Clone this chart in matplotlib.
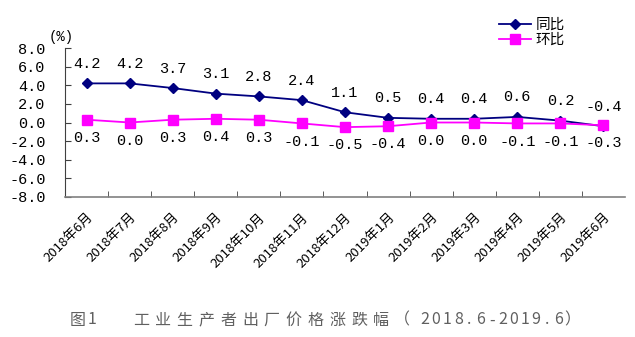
import matplotlib.pyplot as plt
import numpy as np

plt.rcParams['font.family'] = ['Noto Sans CJK SC', 'DejaVu Sans']
NUM_FONT = ['Liberation Mono', 'DejaVu Sans Mono']

months = ['2018年6月', '2018年7月', '2018年8月', '2018年9月', '2018年10月', '2018年11月',
          '2018年12月', '2019年1月', '2019年2月', '2019年3月', '2019年4月', '2019年5月',
          '2019年6月']
yoy = [4.2, 4.2, 3.7, 3.1, 2.8, 2.4, 1.1, 0.5, 0.4, 0.4, 0.6, 0.2, -0.4]
mom = [0.3, 0.0, 0.3, 0.4, 0.3, -0.1, -0.5, -0.4, 0.0, 0.0, -0.1, -0.1, -0.3]
yticks = np.arange(-8, 8.1, 2)
# caption pieces: text, centre of first glyph (px), advance per glyph (px)
caption = [('图', 78, 0), ('1', 92, 0), ('工业生产者出厂价格涨跌幅', 141, 21.8),
           ('（', 402, 0), ('2018.6-2019.6', 425, 11.1), ('）', 572, 0)]

W, H = 635, 337
fig = plt.figure(figsize=(W / 100, H / 100), dpi=100)
ax = fig.add_axes([65 / W, 1 - 197 / H, 560 / W, 149 / H])

x = np.arange(len(months))
ax.plot(x, yoy, color='#000080', marker='D', markersize=5, linewidth=1.3, label='同比')
ax.plot(x, mom, color='#FF00FF', marker='s', markersize=7, linewidth=1.3, label='环比')

for xi, v in zip(x, yoy):
    ax.annotate(f'{v:.1f}', (xi, v), xytext=(0, 9), textcoords='offset points',
                ha='center', va='bottom', fontsize=11, family=NUM_FONT)
for xi, v in zip(x, mom):
    ax.annotate(f'{v:.1f}', (xi, v), xytext=(0, -8), textcoords='offset points',
                ha='center', va='top', fontsize=11, family=NUM_FONT)

ax.set_xlim(-0.5, len(months) - 0.5)
ax.set_ylim(-8, 8)
ax.set_yticks(yticks)
ax.set_yticklabels([f'{t:.1f}' for t in yticks], fontsize=11, family=NUM_FONT)
ax.set_xticks(x)
ax.set_xticklabels(months, rotation=45, ha='right', rotation_mode='anchor', fontsize=9.5)
ax.set_xticks(np.arange(0.5, len(months) - 0.5, 1), minor=True)
ax.tick_params(axis='x', which='major', length=0, pad=10)
ax.tick_params(axis='x', which='minor', direction='in', length=4, color='#404040')
ax.tick_params(axis='y', direction='in', length=4, color='#404040', pad=14)

for s in ['top', 'right']:
    ax.spines[s].set_visible(False)
ax.spines['left'].set_color('#404040')
ax.spines['bottom'].set_color('#808080')
ax.spines['bottom'].set_linewidth(1.2)

ax.text(-0.03, 1.03, '(%)', transform=ax.transAxes, fontsize=10, ha='left', va='bottom',
        family=NUM_FONT)

ax.legend(loc='upper left', bbox_to_anchor=(0.762, 1.25), frameon=False, fontsize=10.5,
          handlelength=2.2, handletextpad=0.3, labelspacing=0.05, borderpad=0)

# caption drawn glyph by glyph for the wide letter spacing
for text, x0, step in caption:
    for i, ch in enumerate(text):
        fig.text((x0 + i * step) / W, 1 - 320 / H, ch, ha='center', va='center',
                 fontsize=11.5, color='#606060')

fig.savefig('out.png', dpi=100)
